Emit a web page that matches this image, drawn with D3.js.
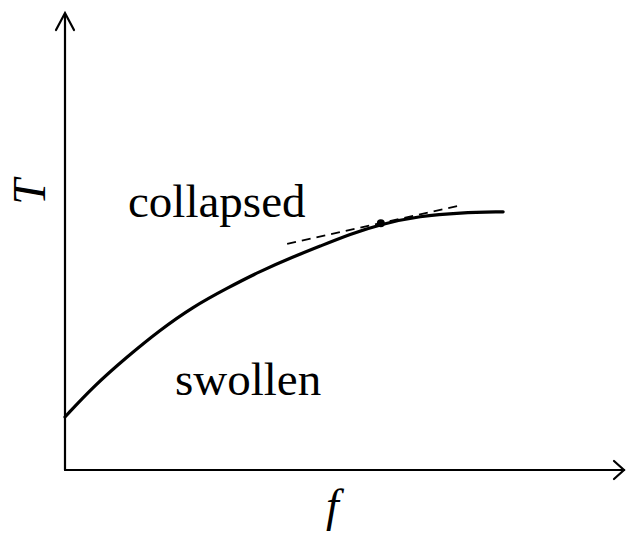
<!DOCTYPE html>
<html>
<head>
<meta charset="utf-8">
<script src="https://cdn.jsdelivr.net/npm/d3@7"></script>
<style>
  html, body { margin: 0; padding: 0; background: #fff; }
  svg { display: block; }
</style>
</head>
<body>
<svg id="chart" width="626" height="533"></svg>
<script>
// Phase boundary T(f) between swollen and collapsed states (arbitrary units)
const boundaryF = [0.000, 0.050, 0.110, 0.169, 0.228, 0.289, 0.348, 0.406, 0.455, 0.508, 0.563, 0.633, 0.704, 0.781];
const boundaryT = [0.116, 0.182, 0.247, 0.306, 0.357, 0.398, 0.435, 0.466, 0.490, 0.516, 0.538, 0.556, 0.563, 0.565];

// Tangent to the boundary at the marked point
const tangentF = [0.396, 0.709];
const tangentT = [0.495, 0.580];
const pointF = [0.563];
const pointT = [0.540];

const svg = d3.select("#chart");
const x0 = 65, x1 = 626, y0 = 470, y1 = 13;
const x = d3.scaleLinear().domain([0, 1]).range([x0, x1]);
const y = d3.scaleLinear().domain([0, 1]).range([y0, y1]);

// Axes with open arrowheads
const axes = svg.append("g").attr("stroke", "#000").attr("stroke-width", 2.2).attr("fill", "none")
  .attr("stroke-linecap", "round");
axes.append("line").attr("x1", x(0)).attr("y1", y(0)).attr("x2", x(0)).attr("y2", y(1) + 1);
axes.append("line").attr("x1", x(0)).attr("y1", y(0)).attr("x2", x(1) - 2).attr("y2", y(0));
axes.append("path").attr("d", `M${x(0) - 9},${y(1) + 17} L${x(0)},${y(1)} L${x(0) + 9},${y(1) + 17}`);
axes.append("path").attr("d", `M${x(1) - 12},${y(0) - 9} L${x(1) - 2},${y(0)} L${x(1) - 12},${y(0) + 9}`);

// Boundary curve
const pts = boundaryF.map((f, i) => [f, boundaryT[i]]);
svg.append("path")
  .datum(pts)
  .attr("fill", "none")
  .attr("stroke", "#000")
  .attr("stroke-width", 3.2)
  .attr("stroke-linecap", "round")
  .attr("d", d3.line().x(d => x(d[0])).y(d => y(d[1])).curve(d3.curveBasis));

// Dashed tangent
svg.append("line")
  .attr("x1", x(tangentF[0])).attr("y1", y(tangentT[0]))
  .attr("x2", x(tangentF[1])).attr("y2", y(tangentT[1]))
  .attr("stroke", "#000").attr("stroke-width", 1.8)
  .attr("stroke-dasharray", "9,6");

// Marked point
svg.selectAll("circle.pt").data(pointF).join("circle")
  .attr("class", "pt")
  .attr("cx", d => x(d)).attr("cy", (d, i) => y(pointT[i]))
  .attr("r", 4).attr("fill", "#000");

// Region labels
const serif = "'Times New Roman', 'Liberation Serif', Times, serif";
svg.append("text").attr("x", 128).attr("y", 217)
  .attr("font-family", serif).attr("font-size", 47).attr("fill", "#000").text("collapsed");
svg.append("text").attr("x", 175).attr("y", 395)
  .attr("font-family", serif).attr("font-size", 47).attr("fill", "#000").text("swollen");

// Axis titles
svg.append("text").attr("x", 326).attr("y", 521)
  .attr("font-family", serif).attr("font-style", "italic").attr("font-size", 46).attr("fill", "#000").text("f");
svg.append("text")
  .attr("transform", "translate(45,192) rotate(-90)")
  .attr("text-anchor", "middle")
  .attr("font-family", serif).attr("font-style", "italic").attr("font-size", 46).attr("fill", "#000").text("T");
</script>
</body>
</html>
